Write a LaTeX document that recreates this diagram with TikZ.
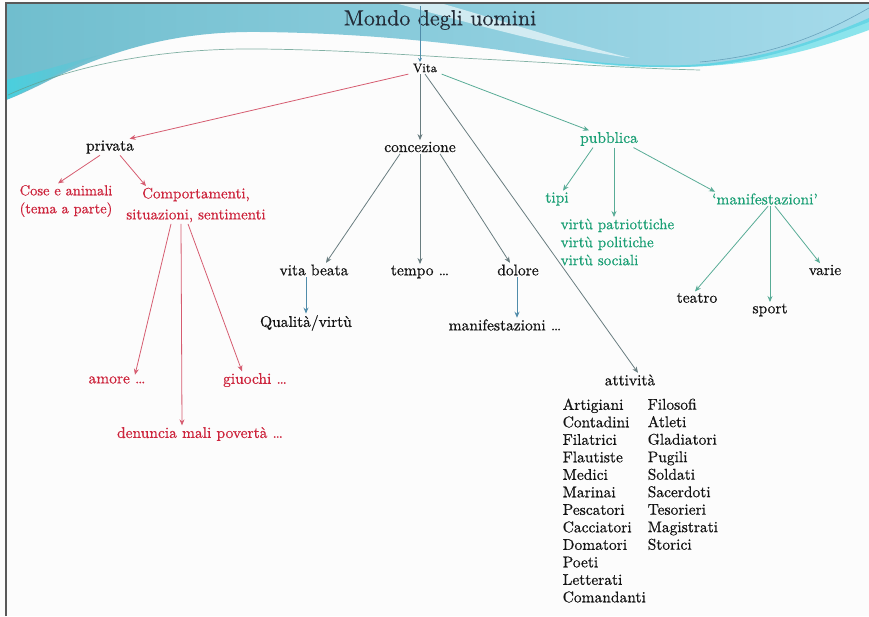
\documentclass[tikz,border=0pt]{standalone}
\usepackage{fontspec}
\newfontfamily\txtfont{lmroman10-regular.otf}[FakeBold=0.6,Ligatures=TeX]
\newfontfamily\ttlfont{lmroman10-regular.otf}[FakeBold=0.3,Ligatures=TeX]
\usetikzlibrary{arrows.meta}
\definecolor{redtxt}{RGB}{205,36,60}
\definecolor{redln}{RGB}{214,92,112}
\definecolor{grntxt}{RGB}{28,160,118}
\definecolor{grnln}{RGB}{88,172,150}
\definecolor{grayln}{RGB}{105,125,128}
\definecolor{blueln}{RGB}{80,140,170}
\definecolor{hdrL}{RGB}{112,190,206}
\definecolor{hdrR}{RGB}{165,218,234}
\definecolor{hdrC}{RGB}{64,212,226}
\definecolor{titlec}{RGB}{36,44,56}
\tikzset{
  lbl/.style={inner sep=1.5pt, font=\txtfont\fontsize{15.5}{18}\selectfont, text=black!92},
  rlbl/.style={lbl, text=redtxt},
  glbl/.style={lbl, text=grntxt},
  arr/.style={-{Stealth[length=6pt,width=5pt]}, line width=0.8pt},
  rarr/.style={arr, draw=redln},
  garr/.style={arr, draw=grnln},
  karr/.style={arr, draw=grayln},
  barr/.style={arr, draw=blueln},
}
\begin{document}
\begin{tikzpicture}[x=1pt,y=-1pt]
\useasboundingbox (0,0) rectangle (869,616);
\fill[white!98!gray] (0,0) rectangle (869,616);
% header
\shade[left color=hdrL, right color=hdrR]
  (6,3) -- (869,3) -- (869,22)
  .. controls (820,40) and (760,66) .. (680,67)
  .. controls (620,68) and (560,60) .. (500,50)
  .. controls (440,42) and (360,33) .. (260,32)
  .. controls (180,31) and (120,48) .. (60,75)
  .. controls (40,85) and (20,95) .. (6,100) -- cycle;
\shade[left color=hdrC, right color=hdrL, opacity=0.8]
  (6,100) .. controls (40,85) and (70,65) .. (100,55)
  .. controls (70,62) and (40,72) .. (6,80) -- cycle;
\fill[hdrC, opacity=0.6]
  (560,58) .. controls (620,66) and (680,68) .. (720,62)
  .. controls (780,54) and (830,35) .. (869,18) -- (869,30)
  .. controls (820,48) and (760,66) .. (680,67)
  .. controls (620,68) and (580,63) .. (560,58) -- cycle;
\fill[white, opacity=0.6]
  (395,3) -- (440,3) .. controls (500,20) and (560,40) .. (630,58)
  .. controls (560,48) and (480,26) .. (395,3) -- cycle;
\draw[grnln!70!gray, line width=0.7pt, opacity=0.8]
  (8,95) .. controls (80,62) and (170,48) .. (260,49)
  .. controls (350,50) and (420,56) .. (480,59)
  .. controls (560,63) and (620,68) .. (700,70);
\draw[blueln, line width=0.6pt, opacity=0.7]
  (700,62) .. controls (780,55) and (830,30) .. (869,8);
% frame
\draw[black!65, line width=1.6pt] (6,616) -- (6,3) -- (869,3);

% nodes
\node[font=\ttlfont\fontsize{22}{24}\selectfont, text=titlec] (title) at (440,20) {Mondo degli uomini};
\coordinate (top) at (420,6);
\node[lbl, font=\txtfont\fontsize{12.5}{14}\selectfont] (vita) at (425,68) {Vita};

\node[lbl] (privata) at (110,147) {privata};
\node[lbl] (concezione) at (420,147) {concezione};
\node[glbl] (pubblica) at (609,139) {pubblica};

\node[rlbl, align=center, font=\txtfont\fontsize{14.5}{18}\selectfont] (cose) at (66,201) {Cose e animali\\(tema a parte)};
\node[rlbl, align=center, font=\txtfont\fontsize{15}{21}\selectfont] (comport) at (196,205) {Comportamenti,\\situazioni, sentimenti};
\node[rlbl] (amore) at (117,380) {amore \dots};
\node[rlbl] (giuochi) at (255,380) {giuochi \dots};
\node[rlbl] (denuncia) at (200,434) {denuncia mali povertà \dots};

\node[lbl] (vitabeata) at (314,270) {vita beata};
\node[lbl] (tempo) at (420,272) {tempo \dots};
\node[lbl] (dolore) at (518,270) {dolore};
\node[lbl] (qualita) at (306,323) {Qualità/virtù};
\node[lbl] (manifa) at (505,325) {manifestazioni \dots};

\node[glbl] (tipi) at (557,199) {tipi};
\node[glbl, anchor=north west, align=left, font=\txtfont\fontsize{15}{18}\selectfont] (virtu) at (559,217) {virtù patriottiche\\virtù politiche\\virtù sociali};
\node[glbl] (manifb) at (765,199) {‘manifestazioni’};
\node[lbl] (teatro) at (697,298) {teatro};
\node[lbl] (sport) at (770,310) {sport};
\node[lbl] (varie) at (825,270) {varie};

\node[lbl] (attivita) at (630,380) {attività};
\node[lbl, anchor=north west, align=left, font=\txtfont\fontsize{15.5}{17.5}\selectfont] (cola) at (561,397)
 {Artigiani\\Contadini\\Filatrici\\Flautiste\\Medici\\Marinai\\Pescatori\\Cacciatori\\Domatori\\Poeti\\Letterati\\Comandanti};
\node[lbl, anchor=north west, align=left, font=\txtfont\fontsize{15.5}{17.5}\selectfont] (colb) at (646,397)
 {Filosofi\\Atleti\\Gladiatori\\Pugili\\Soldati\\Sacerdoti\\Tesorieri\\Magistrati\\Storici};

% connectors
\draw[draw=blueln, line width=0.8pt, -{Stealth[length=4pt,width=4pt]}] (top) -- ([xshift=-5pt]vita.north);
\draw[rarr] ([xshift=-3pt]vita.south west) -- ([xshift=-6pt]privata.north east);
\draw[karr] ([xshift=-5pt]vita.south) -- (concezione.north);
\draw[karr] (vita.south) -- ([xshift=8pt]attivita.north);
\draw[garr] ([xshift=3pt]vita.south east) -- ([xshift=-20pt]pubblica.north);

\draw[rarr] ([xshift=-10pt]privata.south) -- ([xshift=-8pt]cose.north);
\draw[rarr] ([xshift=10pt]privata.south) -- ([xshift=-50pt]comport.north);
\draw[rarr] ([xshift=-25pt]comport.south) -- ([xshift=18pt]amore.north);
\draw[rarr] ([xshift=-15pt]comport.south) -- ([xshift=-18pt]denuncia.north);
\draw[rarr] ([xshift=-8pt]comport.south) -- ([xshift=-13pt]giuochi.north);

\draw[karr] ([xshift=-20pt]concezione.south) -- ([xshift=12pt]vitabeata.north);
\draw[karr] (concezione.south) -- (tempo.north);
\draw[karr] ([xshift=20pt]concezione.south) -- ([xshift=-8pt]dolore.north);
\draw[barr] ([xshift=-8pt]vitabeata.south) -- (qualita.north);
\draw[barr] ([xshift=-1pt]dolore.south) -- ([xshift=12pt]manifa.north);

\draw[garr] ([xshift=-16pt]pubblica.south) -- ([xshift=6pt]tipi.north);
\draw[garr] ([xshift=5pt]pubblica.south) -- ([xshift=55pt]virtu.north west);
\draw[garr] ([xshift=-6pt]pubblica.south east) -- ([xshift=-50pt]manifb.north);
\draw[garr] ([xshift=3pt]manifb.south) -- ([xshift=-2pt]teatro.north);
\draw[garr] ([xshift=5pt]manifb.south) -- (sport.north);
\draw[garr] ([xshift=10pt]manifb.south) -- ([xshift=-5pt]varie.north);
\end{tikzpicture}
\end{document}
